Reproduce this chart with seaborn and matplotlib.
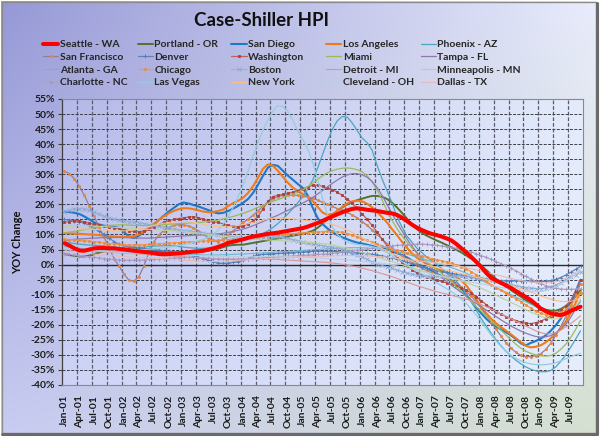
import numpy as np
import pandas as pd
import matplotlib
matplotlib.use("Agg")
import matplotlib.pyplot as plt
import seaborn as sns
from matplotlib.lines import Line2D
from matplotlib.patches import Rectangle

# ---------------- data ----------------
months = pd.date_range("2001-01-01", "2009-09-01", freq="MS")
month_labels = [d.strftime("%b-%y") for d in months]
y_ticks = list(range(-40, 60, 5))

seattle = [
    7.1, 6.3, 5.4, 4.7, 4.6, 5.0, 5.4, 5.5, 5.5, 5.4, 5.4, 5.2,
    5.0, 4.8, 4.6, 4.4, 4.2, 4.0, 3.8, 3.5, 3.4, 3.5, 3.6, 3.7,
    3.9, 4.1, 4.3, 4.4, 4.6, 5.0, 5.4, 5.9, 6.5, 7.2, 7.6, 8.0,
    8.4, 8.9, 9.3, 9.6, 9.9, 10.2, 10.4, 10.6, 10.9, 11.2, 11.5, 11.8,
    12.1, 12.6, 13.2, 13.8, 14.5, 15.3, 16.0, 16.7, 17.4, 18.0, 18.5, 18.7,
    18.5, 18.2, 18.0, 17.8, 17.5, 17.2, 17.0, 16.5, 15.6, 14.5, 13.3, 12.3,
    11.5, 10.8, 10.2, 9.8, 9.3, 8.7, 8.0, 6.8, 5.4, 4.0, 2.5, 0.9,
    -0.8, -2.8, -4.4, -5.3, -6.1, -6.9, -7.8, -8.8, -9.8, -10.8, -11.8, -13.2,
    -14.6, -15.5, -16.2, -16.6, -16.8, -16.3, -15.4, -14.7, -14.0]

portland = [
    3.5, 3.2, 2.9, 2.7, 2.7, 3.0, 3.5, 4.0, 4.4, 4.6, 4.8, 4.9,
    5.0, 5.0, 5.0, 4.9, 4.8, 4.6, 4.4, 4.2, 4.1, 4.0, 4.0, 4.0,
    4.0, 4.1, 4.2, 4.3, 4.4, 4.6, 4.9, 5.3, 5.8, 6.3, 6.5, 6.6,
    6.6, 6.9, 7.2, 7.5, 7.8, 8.1, 8.4, 8.7, 9.0, 9.3, 9.6, 9.9,
    10.2, 10.6, 11.2, 12.2, 13.5, 15.0, 16.5, 17.8, 19.0, 20.0, 20.8, 21.4,
    21.9, 22.4, 22.8, 22.8, 22.5, 21.8, 20.6, 19.0, 17.2, 15.3, 13.4, 11.8,
    10.6, 9.6, 8.8, 8.0, 7.3, 6.5, 5.7, 4.9, 4.0, 3.0, 1.9, 0.8,
    -0.4, -1.8, -3.3, -4.8, -6.2, -7.4, -8.5, -9.6, -10.7, -11.8, -12.8, -13.7,
    -14.4, -15.0, -15.3, -15.3, -14.8, -13.8, -12.3, -10.5, -8.5]

san_diego = [
    17.6, 17.4, 17.2, 16.8, 16.0, 15.0, 14.0, 13.3, 12.9, 12.7, 12.5, 12.2,
    10.8, 9.3, 8.8, 9.6, 10.8, 12.0, 13.3, 14.8, 16.2, 17.6, 18.8, 20.0,
    20.6, 20.3, 19.8, 19.3, 18.7, 18.1, 17.4, 17.0, 17.2, 17.8, 18.6, 19.5,
    20.5, 21.8, 23.8, 26.5, 29.5, 32.2, 33.1, 32.8, 31.2, 29.6, 28.2, 26.8,
    25.5, 23.0, 19.0, 15.5, 13.5, 12.0, 10.8, 9.8, 9.0, 8.4, 7.8, 7.3,
    7.0, 6.6, 6.2, 5.8, 5.4, 5.0, 4.5, 3.8, 3.2, 2.4, 1.4, 0.5,
    -0.3, -1.2, -2.0, -3.0, -3.8, -4.6, -5.3, -6.4, -8.0, -10.0, -12.2, -14.3,
    -16.2, -18.0, -19.5, -20.6, -21.6, -22.5, -23.5, -24.8, -26.2, -26.8, -26.0, -25.4,
    -24.6, -23.5, -22.0, -20.2, -18.0, -15.5, -12.5, -9.0, -5.0]

los_angeles = [
    10.5, 10.4, 10.3, 10.2, 10.1, 10.0, 9.9, 9.8, 9.6, 9.4, 9.3, 9.2,
    9.2, 9.3, 9.5, 10.0, 11.0, 12.2, 13.5, 14.8, 16.0, 17.0, 17.8, 18.4,
    18.7, 18.7, 18.4, 18.0, 17.6, 17.4, 17.5, 17.8, 18.3, 19.5, 20.4, 21.2,
    22.2, 23.8, 26.0, 28.8, 31.8, 33.3, 32.8, 31.2, 29.2, 27.2, 25.6, 24.4,
    23.5, 22.5, 21.2, 19.2, 17.3, 16.5, 16.8, 17.8, 19.2, 20.3, 21.0, 21.2,
    21.0, 20.2, 19.0, 17.5, 15.8, 14.0, 11.8, 9.8, 7.6, 5.6, 3.8, 2.3,
    1.2, 0.2, -0.6, -1.3, -2.0, -2.7, -3.4, -4.2, -5.3, -7.0, -9.2, -11.6,
    -14.0, -16.2, -18.0, -19.5, -20.8, -22.0, -23.2, -24.5, -25.8, -27.0, -27.5, -27.3,
    -26.8, -25.8, -24.5, -23.0, -21.2, -19.0, -16.2, -12.8, -9.0]

phoenix = [
    7.5, 7.3, 7.0, 6.8, 6.6, 6.5, 6.4, 6.3, 6.2, 6.0, 5.8, 5.6,
    5.5, 5.5, 5.6, 5.7, 5.8, 6.0, 6.1, 6.2, 6.3, 6.3, 6.2, 6.0,
    5.8, 5.6, 5.5, 5.4, 5.4, 5.5, 5.7, 6.0, 6.4, 6.8, 7.2, 7.6,
    8.0, 8.5, 9.0, 9.6, 10.3, 11.2, 12.3, 13.6, 15.2, 16.8, 18.6, 20.5,
    22.5, 25.0, 28.0, 32.0, 36.5, 41.0, 45.0, 47.8, 49.2, 49.0, 47.0, 44.5,
    42.0, 40.5, 38.0, 33.0, 28.5, 24.5, 20.5, 16.0, 12.5, 9.5, 7.5, 5.5,
    4.0, 2.5, 1.2, 0.0, -1.3, -2.6, -4.0, -5.6, -7.5, -9.8, -12.4, -15.2,
    -18.0, -20.4, -22.8, -25.0, -27.0, -28.8, -30.4, -31.8, -33.0, -34.0, -34.8, -35.3,
    -35.6, -35.6, -35.2, -34.0, -32.2, -30.0, -27.5, -24.8, -22.0]

san_francisco = [
    31.0, 30.2, 28.5, 26.0, 23.0, 19.5, 16.0, 12.2, 9.0, 5.5, 2.0, -0.5,
    -3.2, -5.2, -5.5, -4.0, -0.5, 4.0, 7.5, 9.8, 11.3, 12.3, 13.0, 13.3,
    13.2, 12.8, 12.2, 11.2, 10.0, 8.8, 8.0, 7.6, 8.4, 9.8, 11.2, 12.6,
    14.0, 15.0, 16.4, 17.8, 19.4, 20.8, 21.8, 22.6, 23.0, 23.1, 23.1, 23.0,
    22.8, 22.5, 22.0, 21.4, 20.7, 20.0, 19.3, 18.6, 18.0, 17.3, 16.5, 15.5,
    14.3, 13.0, 11.5, 10.0, 8.5, 7.0, 5.6, 4.3, 3.0, 1.8, 0.7, -0.3,
    -1.2, -2.0, -2.7, -3.3, -3.9, -4.6, -5.4, -6.4, -7.6, -9.0, -10.6, -12.3,
    -14.5, -16.8, -19.2, -21.5, -23.8, -26.0, -27.8, -29.2, -30.2, -30.6, -30.6, -30.3,
    -29.6, -28.2, -26.1, -23.5, -20.6, -17.4, -14.0, -10.2, -6.5]

denver = [
    15.0, 14.8, 14.6, 14.3, 13.8, 13.0, 12.0, 11.0, 10.0, 8.8, 7.6, 6.8,
    6.3, 6.0, 5.8, 5.6, 5.4, 5.2, 5.0, 4.8, 4.6, 4.4, 4.2, 4.0,
    3.6, 3.3, 2.9, 2.5, 2.0, 1.4, 0.9, 0.5, 0.4, 0.5, 0.7, 1.0,
    1.4, 2.0, 2.7, 3.2, 3.4, 3.5, 3.6, 3.7, 3.8, 3.9, 4.0, 4.2,
    4.2, 4.3, 4.4, 4.5, 4.5, 4.5, 4.4, 4.3, 4.2, 4.1, 4.0, 3.9,
    3.8, 3.6, 3.4, 3.2, 2.9, 2.6, 2.2, 1.8, 1.3, 0.8, 0.3, -0.2,
    -0.7, -1.2, -1.6, -2.0, -2.3, -2.6, -2.9, -3.2, -3.5, -3.8, -4.1, -4.4,
    -4.7, -4.9, -5.1, -5.2, -5.3, -5.3, -5.3, -5.3, -5.3, -5.4, -5.5, -5.6,
    -5.6, -5.5, -5.3, -4.9, -4.3, -3.5, -2.6, -1.6, -0.6]

washington = [
    14.0, 14.3, 14.5, 14.5, 14.2, 13.8, 13.4, 13.0, 12.7, 12.5, 12.3, 12.0,
    11.6, 11.3, 11.0, 10.9, 11.2, 11.8, 12.5, 13.3, 14.0, 14.6, 15.0, 15.3,
    15.5, 15.8, 15.9, 15.6, 15.0, 14.5, 14.2, 14.0, 13.5, 13.0, 12.7, 12.6,
    12.8, 13.5, 14.5, 16.0, 18.5, 21.0, 22.6, 23.0, 23.3, 23.7, 24.0, 24.6,
    25.2, 25.8, 26.3, 26.4, 26.0, 25.5, 24.9, 24.0, 23.0, 21.8, 20.3, 18.7,
    16.8, 15.0, 13.0, 10.8, 8.5, 6.2, 4.2, 2.3, 0.7, -0.6, -1.7, -2.7,
    -3.5, -4.1, -4.6, -5.1, -5.6, -6.1, -6.6, -7.1, -7.7, -8.5, -9.5, -10.7,
    -12.0, -13.3, -14.5, -15.6, -16.5, -17.3, -18.0, -18.6, -19.1, -19.5, -19.6, -19.3,
    -18.8, -18.0, -17.1, -16.2, -15.2, -13.9, -12.0, -8.8, -5.2]

miami = [
    10.5, 10.8, 11.0, 11.3, 11.6, 11.9, 12.2, 12.5, 12.8, 13.0, 13.1, 13.2,
    13.2, 13.1, 13.0, 13.0, 13.0, 13.0, 13.1, 13.2, 13.3, 13.4, 13.5, 13.6,
    13.7, 13.8, 13.9, 14.0, 14.1, 14.3, 14.5, 14.8, 15.2, 15.6, 16.0, 16.5,
    17.0, 17.6, 18.3, 19.0, 19.7, 20.4, 21.0, 21.6, 22.2, 22.8, 23.4, 24.0,
    24.8, 25.8, 27.0, 28.3, 29.5, 30.5, 31.2, 31.7, 32.0, 32.1, 31.9, 31.5,
    30.8, 29.5, 27.5, 24.8, 21.5, 18.0, 14.8, 12.0, 9.6, 7.5, 5.6, 3.9,
    2.4, 1.0, -0.3, -1.6, -2.9, -4.3, -5.8, -7.4, -9.0, -10.7, -12.4, -14.0,
    -15.5, -17.0, -18.6, -20.2, -21.8, -23.4, -25.0, -26.5, -27.8, -28.8, -29.5, -30.0,
    -30.3, -30.4, -30.2, -29.5, -28.2, -26.5, -24.3, -21.6, -18.5]

tampa = [
    8.0, 8.2, 8.4, 8.5, 8.6, 8.7, 8.8, 8.9, 9.0, 9.0, 9.0, 9.0,
    9.0, 8.9, 8.8, 8.8, 8.8, 8.8, 8.9, 9.0, 9.1, 9.2, 9.3, 9.4,
    9.5, 9.6, 9.7, 9.8, 9.9, 10.0, 10.1, 10.2, 10.4, 10.7, 11.0, 11.4,
    11.8, 12.3, 12.9, 13.6, 14.3, 15.0, 15.7, 16.4, 17.2, 18.0, 18.8, 19.6,
    20.4, 21.3, 22.3, 23.4, 24.6, 25.8, 27.0, 28.1, 29.1, 29.8, 30.2, 30.2,
    29.8, 29.0, 27.6, 25.6, 23.0, 20.0, 17.0, 14.0, 11.2, 8.6, 6.2, 4.0,
    2.0, 0.2, -1.4, -2.9, -4.3, -5.6, -6.9, -8.1, -9.3, -10.5, -11.7, -12.9,
    -14.0, -15.1, -16.2, -17.3, -18.4, -19.4, -20.4, -21.3, -22.1, -22.8, -23.4, -23.9,
    -24.1, -24.0, -23.6, -22.8, -21.6, -19.9, -17.6, -14.8, -11.8]

atlanta = [
    6.0, 5.8, 5.6, 5.4, 5.2, 5.0, 4.8, 4.7, 4.6, 4.5, 4.4, 4.3,
    4.2, 4.2, 4.1, 4.0, 4.0, 3.9, 3.8, 3.8, 3.7, 3.6, 3.5, 3.5,
    3.4, 3.4, 3.3, 3.3, 3.2, 3.2, 3.2, 3.2, 3.3, 3.3, 3.4, 3.5,
    3.5, 3.6, 3.7, 3.8, 3.9, 4.0, 4.1, 4.2, 4.3, 4.4, 4.5, 4.6,
    4.7, 4.8, 4.9, 5.0, 5.1, 5.2, 5.3, 5.4, 5.5, 5.6, 5.6, 5.6,
    5.6, 5.5, 5.4, 5.3, 5.1, 4.9, 4.6, 4.3, 3.9, 3.5, 3.0, 2.5,
    2.0, 1.5, 1.0, 0.5, 0.0, -0.5, -1.0, -1.6, -2.2, -2.9, -3.6, -4.4,
    -5.2, -6.0, -6.8, -7.6, -8.4, -9.2, -10.0, -10.8, -11.6, -12.4, -13.2, -14.0,
    -14.8, -15.5, -16.0, -16.3, -16.2, -15.8, -15.0, -13.9, -12.5]

chicago = [
    8.5, 8.3, 8.2, 8.0, 7.9, 7.8, 7.6, 7.4, 7.2, 7.0, 6.8, 6.7,
    6.6, 6.5, 6.5, 6.5, 6.6, 6.7, 6.8, 6.9, 7.0, 7.1, 7.2, 7.3,
    7.4, 7.5, 7.6, 7.7, 7.8, 7.9, 8.0, 8.1, 8.2, 8.3, 8.4, 8.5,
    8.6, 8.7, 8.8, 8.9, 9.1, 9.3, 9.5, 9.7, 9.9, 10.1, 10.3, 10.4,
    10.5, 10.6, 10.7, 10.8, 10.9, 11.0, 11.0, 10.9, 10.7, 10.3, 9.8, 9.2,
    8.6, 8.0, 7.4, 6.8, 6.2, 5.7, 5.2, 4.8, 4.4, 4.0, 3.6, 3.2,
    2.8, 2.4, 2.0, 1.6, 1.2, 0.8, 0.4, -0.1, -0.7, -1.5, -2.4, -3.4,
    -4.5, -5.6, -6.7, -7.7, -8.6, -9.5, -10.4, -11.3, -12.3, -13.4, -14.5, -15.5,
    -16.2, -16.6, -16.7, -16.5, -15.9, -14.9, -13.5, -11.6, -9.4]

boston = [
    17.5, 18.0, 18.5, 18.6, 18.4, 18.0, 17.4, 16.7, 16.0, 15.4, 15.0, 14.7,
    14.5, 14.3, 14.1, 13.9, 13.6, 13.3, 13.0, 12.7, 12.4, 12.1, 11.8, 11.5,
    11.2, 11.0, 10.8, 10.6, 10.4, 10.2, 10.0, 9.8, 9.6, 9.4, 9.2, 9.0,
    8.9, 8.9, 9.0, 9.1, 9.2, 9.3, 9.3, 9.2, 9.0, 8.7, 8.3, 7.9,
    7.5, 7.1, 6.8, 6.5, 6.2, 6.0, 5.7, 5.4, 5.0, 4.5, 3.9, 3.2,
    2.5, 1.7, 1.0, 0.3, -0.3, -0.8, -1.3, -1.8, -2.3, -2.8, -3.2, -3.5,
    -3.7, -3.8, -3.9, -3.9, -3.9, -3.9, -3.9, -3.9, -3.9, -4.0, -4.1, -4.3,
    -4.5, -4.8, -5.1, -5.5, -5.9, -6.3, -6.7, -7.1, -7.4, -7.7, -7.9, -8.0,
    -8.0, -7.8, -7.4, -6.8, -6.0, -5.1, -4.2, -3.3, -2.4]

detroit = [
    5.0, 4.9, 4.8, 4.7, 4.6, 4.5, 4.4, 4.3, 4.2, 4.1, 4.0, 3.9,
    3.8, 3.7, 3.6, 3.5, 3.4, 3.3, 3.2, 3.1, 3.0, 2.9, 2.8, 2.7,
    2.6, 2.5, 2.4, 2.3, 2.2, 2.1, 2.0, 1.9, 1.8, 1.8, 1.8, 1.8,
    1.8, 1.8, 1.8, 1.8, 1.8, 1.8, 1.8, 1.7, 1.6, 1.5, 1.4, 1.3,
    1.2, 1.1, 1.0, 0.9, 0.8, 0.7, 0.5, 0.3, 0.1, -0.2, -0.5, -0.8,
    -1.2, -1.6, -2.0, -2.5, -3.0, -3.5, -4.0, -4.6, -5.2, -5.8, -6.4, -7.0,
    -7.5, -8.0, -8.5, -9.0, -9.4, -9.8, -10.2, -10.6, -11.0, -11.5, -12.0, -12.6,
    -13.3, -14.0, -14.8, -15.6, -16.4, -17.2, -18.0, -18.8, -19.6, -20.4, -21.2, -22.0,
    -22.6, -23.0, -23.0, -22.6, -21.8, -20.8, -19.6, -18.4, -17.0]

minneapolis = [
    12.5, 12.7, 12.9, 13.0, 13.0, 12.9, 12.8, 12.7, 12.6, 12.5, 12.4, 12.3,
    12.2, 12.1, 12.0, 11.9, 11.8, 11.7, 11.6, 11.5, 11.4, 11.3, 11.2, 11.1,
    11.0, 10.8, 10.6, 10.4, 10.2, 10.0, 9.8, 9.6, 9.4, 9.2, 9.0, 8.8,
    8.7, 8.6, 8.5, 8.4, 8.3, 8.2, 8.1, 8.0, 7.9, 7.8, 7.7, 7.6,
    7.5, 7.4, 7.3, 7.2, 7.0, 6.8, 6.5, 6.2, 5.8, 5.4, 5.0, 4.5,
    4.0, 3.5, 3.0, 2.5, 2.0, 1.5, 1.0, 0.5, 0.0, -0.5, -1.0, -1.5,
    -2.0, -2.5, -3.0, -3.4, -3.8, -4.2, -4.6, -5.0, -5.5, -6.0, -6.6, -7.2,
    -7.9, -8.6, -9.4, -10.2, -11.0, -11.8, -12.6, -13.4, -14.2, -15.0, -15.8, -16.5,
    -17.2, -17.7, -18.0, -18.0, -17.6, -16.8, -15.5, -13.8, -11.8]

charlotte = [
    3.5, 3.4, 3.2, 3.0, 2.8, 2.6, 2.4, 2.2, 2.0, 1.8, 1.7, 1.6,
    1.5, 1.5, 1.5, 1.5, 1.6, 1.7, 1.8, 1.9, 2.0, 2.1, 2.2, 2.3,
    2.4, 2.4, 2.4, 2.3, 2.2, 2.1, 2.0, 1.9, 1.8, 1.8, 1.8, 1.8,
    1.9, 2.0, 2.1, 2.2, 2.3, 2.4, 2.5, 2.6, 2.7, 2.8, 2.9, 3.0,
    3.1, 3.2, 3.3, 3.4, 3.5, 3.6, 3.8, 4.0, 4.2, 4.4, 4.6, 4.8,
    5.0, 5.2, 5.4, 5.6, 5.8, 6.0, 6.2, 6.4, 6.5, 6.6, 6.7, 6.8,
    6.8, 6.7, 6.6, 6.4, 6.2, 6.0, 5.7, 5.4, 5.0, 4.6, 4.1, 3.6,
    3.0, 2.4, 1.7, 1.0, 0.3, -0.5, -1.3, -2.1, -3.0, -3.9, -4.8, -5.6,
    -6.3, -7.0, -7.5, -7.9, -8.1, -8.2, -8.2, -8.1, -8.0]

las_vegas = [
    5.5, 5.4, 5.3, 5.2, 5.1, 5.0, 4.9, 4.9, 4.8, 4.8, 4.7, 4.7,
    4.7, 4.7, 4.8, 4.9, 5.0, 5.1, 5.2, 5.4, 5.6, 5.8, 6.0, 6.3,
    6.6, 7.0, 7.4, 7.9, 8.4, 9.0, 10.0, 11.5, 13.5, 16.0, 19.0, 22.5,
    26.5, 31.0, 36.0, 40.5, 44.5, 48.0, 51.0, 52.8, 52.6, 51.0, 48.0, 44.5,
    41.5, 38.5, 34.0, 28.5, 22.0, 16.5, 12.5, 10.0, 8.5, 7.5, 7.0, 6.7,
    6.5, 6.3, 6.0, 5.5, 4.8, 4.0, 3.0, 2.0, 1.0, 0.0, -1.0, -2.0,
    -3.0, -4.0, -5.0, -6.0, -7.0, -8.0, -9.0, -10.2, -11.5, -13.0, -14.8, -16.8,
    -19.0, -21.2, -23.4, -25.4, -27.2, -28.8, -30.2, -31.2, -32.0, -32.6, -33.0, -33.2,
    -33.3, -33.2, -33.0, -32.6, -32.0, -31.3, -30.6, -30.0, -29.5]

new_york = [
    11.5, 11.6, 11.7, 11.8, 11.8, 11.8, 11.7, 11.6, 11.5, 11.4, 11.3, 11.2,
    11.2, 11.3, 11.5, 11.8, 12.2, 12.6, 13.0, 13.4, 13.7, 14.0, 14.2, 14.3,
    14.3, 14.2, 14.0, 13.7, 13.4, 13.1, 12.8, 12.6, 12.5, 12.6, 12.8, 13.0,
    13.3, 13.6, 14.0, 14.4, 14.8, 15.1, 15.3, 15.4, 15.4, 15.3, 15.2, 15.0,
    14.8, 14.6, 14.4, 14.2, 14.0, 13.7, 13.3, 12.8, 12.2, 11.5, 10.7, 9.8,
    8.9, 8.0, 7.1, 6.2, 5.3, 4.5, 3.7, 3.0, 2.3, 1.7, 1.1, 0.6,
    0.2, -0.2, -0.6, -1.0, -1.4, -1.8, -2.2, -2.6, -3.0, -3.4, -3.8, -4.2,
    -4.6, -5.0, -5.4, -5.8, -6.2, -6.6, -7.0, -7.5, -8.0, -8.6, -9.2, -9.8,
    -10.4, -11.0, -11.5, -11.9, -12.2, -12.3, -12.2, -11.8, -11.0]

cleveland = [
    5.2, 5.1, 5.0, 4.9, 4.8, 4.7, 4.6, 4.5, 4.4, 4.3, 4.2, 4.1,
    4.0, 3.9, 3.8, 3.7, 3.6, 3.5, 3.4, 3.4, 3.3, 3.3, 3.2, 3.2,
    3.1, 3.1, 3.0, 3.0, 2.9, 2.9, 2.8, 2.8, 2.7, 2.7, 2.6, 2.6,
    2.6, 2.6, 2.6, 2.7, 2.7, 2.8, 2.8, 2.8, 2.8, 2.7, 2.7, 2.6,
    2.5, 2.4, 2.3, 2.2, 2.1, 2.0, 1.9, 1.8, 1.7, 1.6, 1.5, 1.3,
    1.1, 0.9, 0.7, 0.5, 0.3, 0.1, -0.2, -0.5, -0.8, -1.1, -1.5, -1.9,
    -2.3, -2.7, -3.1, -3.5, -3.9, -4.3, -4.6, -4.9, -5.2, -5.5, -5.8, -6.1,
    -6.4, -6.7, -7.0, -7.3, -7.6, -7.9, -8.2, -8.5, -8.7, -8.9, -9.0, -9.0,
    -8.9, -8.6, -8.1, -7.4, -6.5, -5.5, -4.4, -3.2, -2.0]

dallas = [
    4.5, 4.4, 4.3, 4.1, 3.9, 3.7, 3.5, 3.3, 3.1, 3.0, 2.9, 2.8,
    2.7, 2.6, 2.5, 2.4, 2.3, 2.2, 2.1, 2.0, 1.9, 1.8, 1.7, 1.6,
    1.5, 1.4, 1.3, 1.2, 1.1, 1.0, 1.0, 1.0, 1.1, 1.2, 1.3, 1.4,
    1.5, 1.6, 1.7, 1.8, 1.9, 2.0, 2.1, 2.2, 2.3, 2.4, 2.5, 2.5,
    2.6, 2.6, 2.7, 2.7, 2.8, 2.8, 2.9, 2.9, 3.0, 3.0, 3.0, 3.0,
    3.0, 2.9, 2.8, 2.7, 2.6, 2.5, 2.3, 2.1, 1.9, 1.7, 1.5, 1.3,
    1.1, 0.9, 0.7, 0.5, 0.3, 0.1, -0.1, -0.4, -0.7, -1.0, -1.4, -1.8,
    -2.2, -2.6, -3.0, -3.4, -3.8, -4.2, -4.6, -5.0, -5.3, -5.6, -5.8, -6.0,
    -6.1, -6.1, -6.0, -5.7, -5.2, -4.5, -3.6, -2.6, -1.5]

city_names = [
    "Seattle - WA", "Portland - OR", "San Diego", "Los Angeles", "Phoenix - AZ",
    "San Francisco", "Denver", "Washington", "Miami", "Tampa - FL",
    "Atlanta - GA", "Chicago", "Boston", "Detroit - MI", "Minneapolis - MN",
    "Charlotte - NC", "Las Vegas", "New York", "Cleveland - OH", "Dallas - TX",
]
city_values = [
    seattle, portland, san_diego, los_angeles, phoenix,
    san_francisco, denver, washington, miami, tampa,
    atlanta, chicago, boston, detroit, minneapolis,
    charlotte, las_vegas, new_york, cleveland, dallas,
]

# ---------------- styles ----------------
styles = {
    "Seattle - WA":     dict(color="#FF0000", lw=2.9),
    "Portland - OR":    dict(color="#56702E", lw=1.4),
    "San Diego":        dict(color="#1F78C8", lw=1.5),
    "Los Angeles":      dict(color="#F07A1A", lw=1.5),
    "Phoenix - AZ":     dict(color="#4BA6C0", lw=0.9),
    "San Francisco":    dict(color="#8E7FA0", lw=0.9, marker="o", ms=1.5, mc="#E8843C"),
    "Denver":           dict(color="#5A84BE", lw=0.9, marker="+", ms=3.0, mc="#4F7AB5"),
    "Washington":       dict(color="#C0605C", lw=0.9, marker="s", ms=1.5, mc="#A8413E"),
    "Miami":            dict(color="#9BBB59", lw=0.9),
    "Tampa - FL":       dict(color="#8F7AAE", lw=0.9),
    "Atlanta - GA":     dict(color="#6AB8CE", lw=0.8),
    "Chicago":          dict(color="#F79646", lw=0.9, marker="o", ms=1.5, mc="#EE8A3A"),
    "Boston":           dict(color="#95B3D7", lw=0.8, marker="x", ms=2.4, mc="#8AA8D0"),
    "Detroit - MI":     dict(color="#D99694", lw=0.8),
    "Minneapolis - MN": dict(color="#BCD394", lw=0.8),
    "Charlotte - NC":   dict(color="#B3A2C7", lw=0.8, marker="+", ms=2.6, mc="#A592BC"),
    "Las Vegas":        dict(color="#93CDDD", lw=0.9),
    "New York":         dict(color="#F9BE8A", lw=0.8),
    "Cleveland - OH":   dict(color="#B9CDE5", lw=0.8),
    "Dallas - TX":      dict(color="#E6B9B8", lw=0.8),
}

sns.set_theme(style="white")
plt.rcParams["font.family"] = ["Lato", "DejaVu Sans"]
plt.rcParams["font.weight"] = "bold"

W, H = 600, 437
fig = plt.figure(figsize=(W / 100, H / 100), dpi=100)
fig.patch.set_facecolor("white")


def gradient(tl, tr, bl, br, n=200):
    tl, tr, bl, br = [np.array(c, dtype=float) / 255 for c in (tl, tr, bl, br)]
    u = np.linspace(0, 1, n)[None, :, None]
    v = np.linspace(0, 1, n)[:, None, None]
    top = tl * (1 - u) + tr * u
    bot = bl * (1 - u) + br * u
    return np.clip(top * (1 - v) + bot * v, 0, 1)


# chart-area background with border
bg = fig.add_axes([1 / W, 4 / H, 595 / W, 432 / H], zorder=-5)
bg.imshow(gradient((150, 152, 214), (232, 236, 252), (200, 204, 242), (214, 224, 208)),
          extent=[0, 1, 0, 1], aspect="auto", origin="upper", interpolation="bilinear")
bg.set_xlim(0, 1)
bg.set_ylim(0, 1)
bg.axis("off")
fig.add_artist(Rectangle((1.5 / W, 4 / H), 594.5 / W, 431.5 / H, transform=fig.transFigure,
                         fill=False, edgecolor="#8C8C8C", lw=1.0, zorder=-4))
fig.add_artist(Line2D([2 / W, 597 / W], [3.2 / H, 3.2 / H], transform=fig.transFigure,
                      color="#6A6A6A", lw=2.2))
fig.add_artist(Line2D([596.8 / W, 596.8 / W], [3.2 / H, 434 / H], transform=fig.transFigure,
                      color="#6A6A6A", lw=2.2))

# plot area
L, R, T, B = 62, 583, 99, 385
ax = fig.add_axes([L / W, (H - B) / H, (R - L) / W, (B - T) / H])
n = len(months)
x_idx = np.arange(n)
ax.imshow(gradient((180, 184, 232), (228, 236, 252), (206, 212, 246), (230, 238, 252)),
          extent=[-0.5, n - 0.5, -40, 55], aspect="auto", origin="upper",
          interpolation="bilinear", zorder=0)

legend_handles = []
for i, (name, vals) in enumerate(zip(city_names, city_values)):
    st = styles[name]
    mk = st.get("marker")
    kw = dict(color=st["color"], linewidth=st["lw"])
    if mk:
        kw.update(marker=mk, markersize=st["ms"], markerfacecolor=st["mc"],
                  markeredgecolor=st["mc"], markeredgewidth=0.6)
    z = 10 if i == 0 else 3 + i * 0.01
    sns.lineplot(x=x_idx, y=vals, ax=ax, legend=False, zorder=z, **kw)
    legend_handles.append(Line2D([], [], **kw))

ax.set_xlim(-0.5, n - 0.5)
ax.set_ylim(-40, 55)
ax.set_xlabel("")
ax.set_ylabel("")

# y axis
ax.set_yticks(y_ticks)
ax.set_yticklabels([f"{v}%" for v in y_ticks], fontsize=7.5, fontweight="bold", color="#1a1a1a")
ax.tick_params(axis="y", length=3, width=0.8, color="#404040", pad=2, direction="out", left=True)

# x axis
ax.set_xticks(x_idx[::3])
ax.set_xticklabels(month_labels[::3], rotation=90, fontsize=7.5, fontweight="bold", color="#1a1a1a")
ax.tick_params(axis="x", length=0, pad=7)
ax.set_xticks(np.arange(2.5, n - 0.5, 3), minor=True)
ax.tick_params(axis="x", which="minor", length=0)

ax.set_axisbelow(True)
ax.grid(False)
ax.yaxis.grid(True, color="#3c3c44", linestyle=(0, (3, 1.5)), linewidth=0.7, zorder=1)
ax.xaxis.grid(True, which="minor", color="#5c5c6c", linestyle=(0, (3, 1.5)), linewidth=0.9, zorder=1)
ax.axhline(0, color="#2a2a2a", lw=1.0, zorder=2)

for side in ["top", "right", "bottom"]:
    ax.spines[side].set_color("#8a8a8a")
    ax.spines[side].set_linewidth(0.8)
ax.spines["left"].set_color("#404040")
ax.spines["left"].set_linewidth(0.9)

# legend: 5 columns x 4 rows, row-major order
col_x = [43, 137.5, 231.5, 326, 420.5]
for c in range(5):
    idx = [r * 5 + c for r in range(4)]
    fig.legend(handles=[legend_handles[k] for k in idx], labels=[city_names[k] for k in idx],
               loc="upper left", bbox_to_anchor=(col_x[c] / W, 1 - 40 / H),
               frameon=False, prop={"size": 7.5, "weight": "bold"},
               handlelength=1.45, handletextpad=0.15, labelspacing=0.32,
               borderpad=0, borderaxespad=0, numpoints=1)

fig.text(261 / W, 1 - 21 / H, "Case-Shiller HPI", ha="center", va="center",
         fontsize=13.5, fontweight="bold", color="#111111")
fig.text(18 / W, 1 - 242 / H, "YOY Change", rotation=90, ha="center", va="center",
         fontsize=8, fontweight="bold", color="#111111")

fig.savefig("out.png", dpi=100)
